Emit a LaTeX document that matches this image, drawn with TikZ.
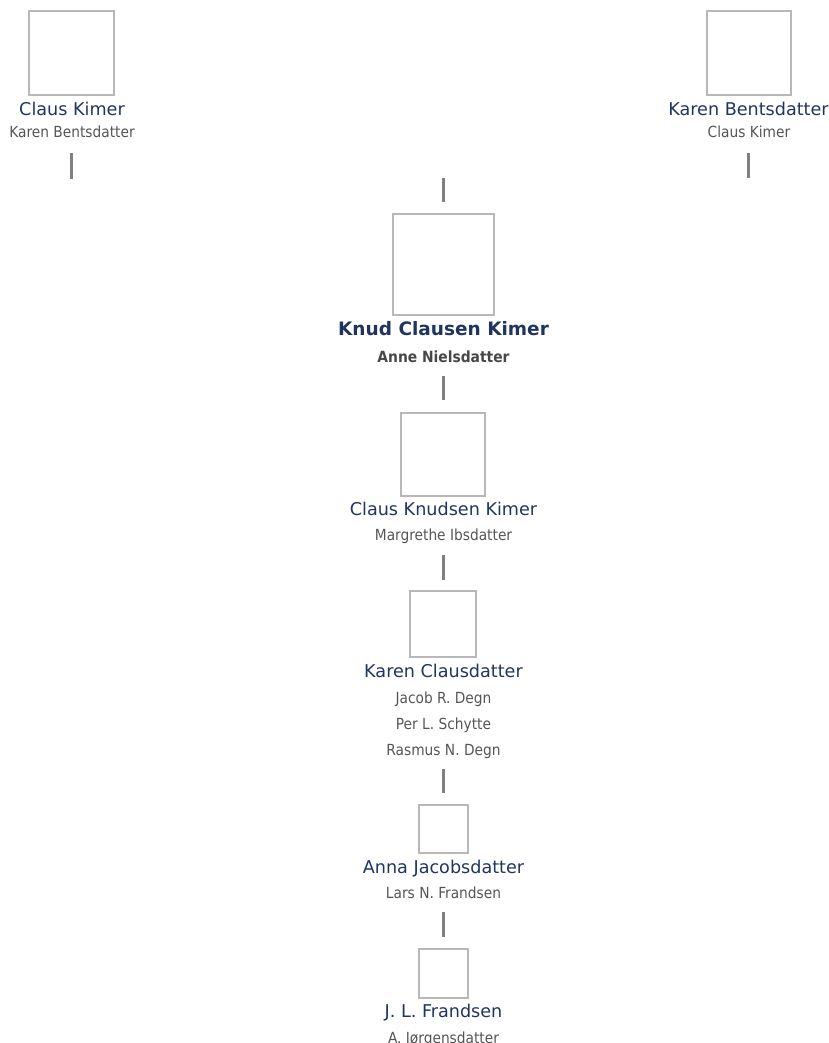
\documentclass[tikz,border=0pt]{standalone}
\usepackage{fontspec}
\setmainfont{DejaVu Sans}
\newfontfamily\spfont{DejaVu Sans Condensed}
\definecolor{namec}{HTML}{1F3560}
\definecolor{spc}{HTML}{555555}
\definecolor{spbc}{HTML}{474747}
\definecolor{boxc}{HTML}{B8B8B8}
\definecolor{linec}{HTML}{808080}
\begin{document}
\begin{tikzpicture}[x=1pt,y=-1pt,
  photo/.style={draw=boxc,line width=2pt,inner sep=0pt,fill=white},
  pname/.style={anchor=base,inner sep=0pt,text=namec,font=\fontsize{17.6}{20}\selectfont},
  pnameb/.style={anchor=base,inner sep=0pt,text=namec,font=\fontsize{18.5}{21}\selectfont\bfseries},
  spouse/.style={anchor=base,inner sep=0pt,text=spc,font=\spfont\fontsize{15.3}{18}\selectfont},
  spouseb/.style={anchor=base,inner sep=0pt,text=spbc,font=\spfont\fontsize{15.4}{18}\selectfont\bfseries},
  stub/.style={draw=linec,line width=3pt}]
\useasboundingbox (0,0) rectangle (829,1043);
% top left
\node[photo,minimum width=85pt,minimum height=84pt] (b1) at (71.5,53) {};
\node[pname] (n1) at (72,116) {Claus Kimer};
\node[spouse] (s1) at (72,138) {Karen Bentsdatter};
\coordinate (l1a) at (71,153); \coordinate (l1b) at (71,179);
\draw[stub] (l1a) -- (l1b);
% top right
\node[photo,minimum width=84pt,minimum height=84pt] (b2) at (749,53) {};
\node[pname] (n2) at (748.5,116) {Karen Bentsdatter};
\node[spouse] (s2) at (749,138) {Claus Kimer};
\coordinate (l2a) at (748,153); \coordinate (l2b) at (748,178);
\draw[stub] (l2a) -- (l2b);
% center top stub
\coordinate (l3a) at (443.5,178); \coordinate (l3b) at (443.5,202);
\draw[stub] (l3a) -- (l3b);
% Knud
\node[photo,minimum width=101pt,minimum height=101pt] (b3) at (443.5,264.5) {};
\node[pnameb] (n3) at (443.5,335) {Knud Clausen Kimer};
\node[spouseb] (s3) at (443.5,362) {Anne Nielsdatter};
\coordinate (l4a) at (443.5,376); \coordinate (l4b) at (443.5,400);
\draw[stub] (l4a) -- (l4b);
% Claus Knudsen
\node[photo,minimum width=84pt,minimum height=83pt] (b4) at (443,454.5) {};
\node[pname] (n4) at (443.5,515) {Claus Knudsen Kimer};
\node[spouse] (s4) at (443.5,540) {Margrethe Ibsdatter};
\coordinate (l5a) at (443.5,555); \coordinate (l5b) at (443.5,580);
\draw[stub] (l5a) -- (l5b);
% Karen Clausdatter
\node[photo,minimum width=66pt,minimum height=66pt] (b5) at (443,624) {};
\node[pname] (n5) at (443.5,677) {Karen Clausdatter};
\node[spouse] (s5a) at (443.5,703) {Jacob R. Degn};
\node[spouse] (s5b) at (443.5,729) {Per L. Schytte};
\node[spouse] (s5c) at (443.5,755) {Rasmus N. Degn};
\coordinate (l6a) at (443.5,769); \coordinate (l6b) at (443.5,793);
\draw[stub] (l6a) -- (l6b);
% Anna Jacobsdatter
\node[photo,minimum width=49pt,minimum height=48pt] (b6) at (443.5,829) {};
\node[pname] (n6) at (443.5,873) {Anna Jacobsdatter};
\node[spouse] (s6) at (443.5,898) {Lars N. Frandsen};
\coordinate (l7a) at (443.5,912); \coordinate (l7b) at (443.5,937);
\draw[stub] (l7a) -- (l7b);
% J. L. Frandsen
\node[photo,minimum width=49pt,minimum height=49pt] (b7) at (443.5,973.5) {};
\node[pname] (n7) at (443.5,1017) {J. L. Frandsen};
\node[spouse] (s7) at (443.5,1043) {A. Jørgensdatter};
\end{tikzpicture}
\end{document}
